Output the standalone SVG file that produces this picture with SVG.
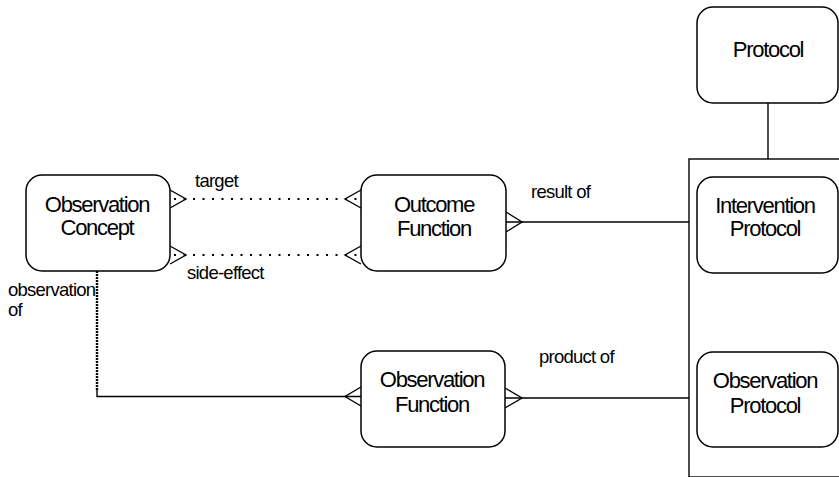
<svg xmlns="http://www.w3.org/2000/svg" width="839" height="477" viewBox="0 0 839 477">
<style>
.box{fill:#fff;stroke:#000;stroke-width:1.5}
.ln{fill:none;stroke:#000;stroke-width:1.4}
.dot{fill:none;stroke:#000;stroke-width:2.2;stroke-dasharray:2 7.5}
.vdot{fill:none;stroke:#000;stroke-width:2.4;stroke-dasharray:2 1}
.nt{font-family:"Liberation Sans",Arial,sans-serif;font-size:22px;letter-spacing:-1.3px;text-anchor:middle;fill:#000}
.lt{font-family:"Liberation Sans",Arial,sans-serif;font-size:18.5px;letter-spacing:-0.75px;fill:#000}
</style>
<rect width="839" height="477" fill="#fff"/>
<g id="container">
<rect x="689" y="159" width="160" height="318" class="ln"/>
</g>
<g id="connectors">
<line x1="768" y1="103" x2="768" y2="159" class="ln"/>
<line x1="174" y1="199" x2="361" y2="199" class="dot"/>
<line x1="174" y1="255" x2="361" y2="255" class="dot"/>
<polyline points="170,190 186,199 170,208" class="ln"/>
<polyline points="170,246 186,255 170,264" class="ln"/>
<polyline points="361,190 345,199 361,208" class="ln"/>
<polyline points="361,246 345,255 361,264" class="ln"/>
<line x1="506" y1="222" x2="689" y2="222" class="ln"/>
<polyline points="506,212 522,222 506,232" class="ln"/>
<line x1="97" y1="271" x2="97" y2="390" class="vdot"/>
<polyline points="97,389 97,396.5 361,396.5" class="ln"/>
<polyline points="361,387 345,396.5 361,406" class="ln"/>
<line x1="505" y1="398" x2="689" y2="398" class="ln"/>
<polyline points="505,388 522,398 505,408" class="ln"/>
<text x="195" y="187" class="lt">target</text>
<text x="187" y="279" class="lt">side-effect</text>
<text x="531" y="198" class="lt">result of</text>
<text x="539" y="363" class="lt">product of</text>
<text class="lt"><tspan x="8" y="296">observation</tspan><tspan x="8" y="315.5">of</tspan></text>
</g>
<g id="observation-concept">
<rect x="26" y="175" width="144" height="96" rx="16" class="box"/>
<text class="nt"><tspan x="97" y="212">Observation</tspan><tspan x="97" y="235">Concept</tspan></text>
</g>
<g id="outcome-function">
<rect x="361" y="175" width="145" height="96" rx="16" class="box"/>
<text class="nt"><tspan x="434" y="212">Outcome</tspan><tspan x="434" y="235.5">Function</tspan></text>
</g>
<g id="observation-function">
<rect x="361" y="351" width="144" height="96" rx="16" class="box"/>
<text class="nt"><tspan x="432" y="387">Observation</tspan><tspan x="432" y="411.5">Function</tspan></text>
</g>
<g id="protocol">
<rect x="697" y="7" width="141" height="96" rx="16" class="box"/>
<text x="768" y="56.5" class="nt">Protocol</text>
</g>
<g id="intervention-protocol">
<rect x="697" y="177" width="141" height="96" rx="16" class="box"/>
<text class="nt"><tspan x="765" y="212.5">Intervention</tspan><tspan x="765" y="235.5">Protocol</tspan></text>
</g>
<g id="observation-protocol">
<rect x="697" y="352" width="141" height="95" rx="16" class="box"/>
<text class="nt"><tspan x="765" y="388">Observation</tspan><tspan x="765" y="412.5">Protocol</tspan></text>
</g>
</svg>
